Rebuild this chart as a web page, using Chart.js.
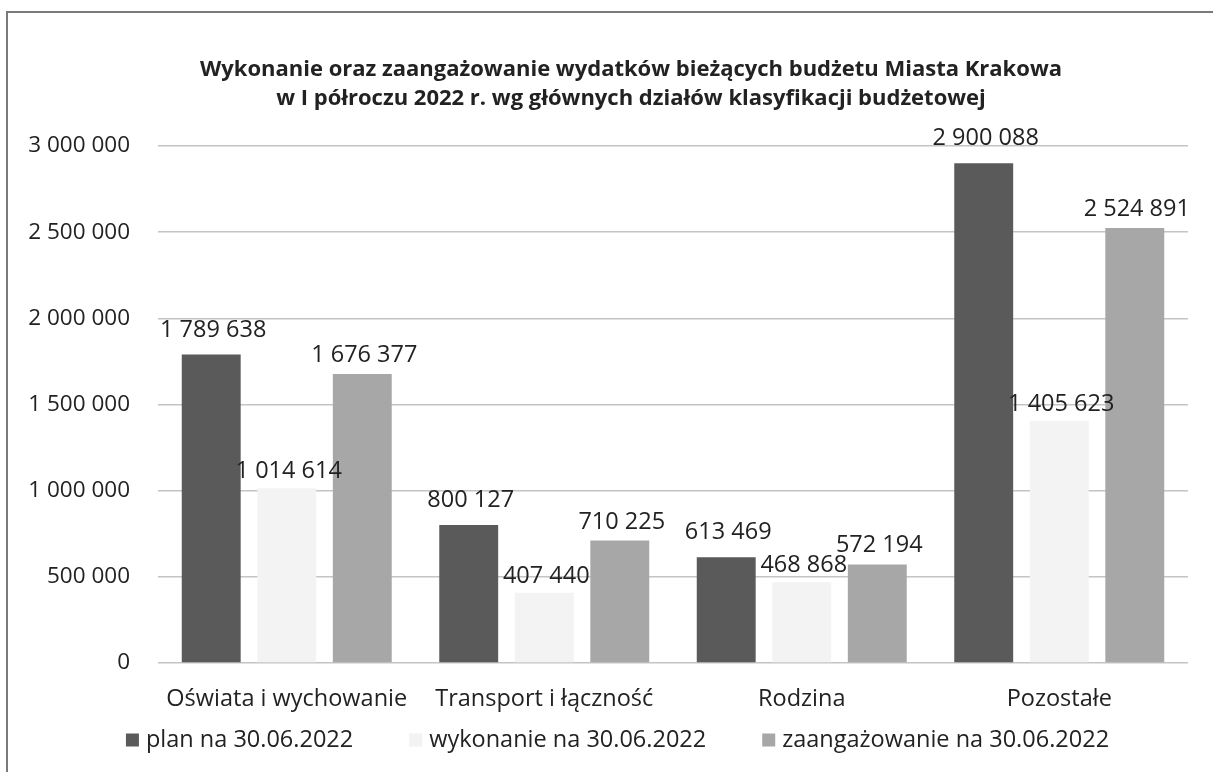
<!DOCTYPE html>
<html><head><meta charset="utf-8">
<script src="https://cdn.jsdelivr.net/npm/chart.js@4.4.1/dist/chart.umd.min.js"></script>
<style>
html,body{margin:0;padding:0;background:#fff;overflow:hidden;width:1213px;height:772px}
#wrap{position:absolute;left:0;top:0;width:1255px;height:772px}
</style></head><body>
<div id="wrap"><canvas id="c" width="1255" height="772"></canvas></div>
<script>
const categories = ["Oświata i wychowanie", "Transport i łączność", "Rodzina", "Pozostałe"];
const seriesNames = ["plan na 30.06.2022", "wykonanie na 30.06.2022", "zaangażowanie na 30.06.2022"];
const planValues = [1789638, 800127, 613469, 2900088];
const wykonanieValues = [1014614, 407440, 468868, 1405623];
const zaangazowanieValues = [1676377, 710225, 572194, 2524891];
const yTickValues = [0, 500000, 1000000, 1500000, 2000000, 2500000, 3000000];
const titleLines = ["Wykonanie oraz zaangażowanie wydatków bieżących budżetu Miasta Krakowa",
                    "w I półroczu 2022 r. wg głównych działów klasyfikacji budżetowej"];

const FONT = "'Open Sans', 'Noto Sans', sans-serif";
const TEXT = "#222222";
const colors = ["#5a5a5a", "#f3f3f3", "#a7a7a7"];
const labelGaps = [18, 10, 12];
const fmt = v => String(v).replace(/\B(?=(\d{3})+(?!\d))/g, "\u00a0");

const framePlugin = {
  id: "frame",
  beforeDraw(chart) {
    const ctx = chart.ctx;
    ctx.save();
    ctx.fillStyle = "#fff";
    ctx.fillRect(0, 0, chart.width, chart.height);
    ctx.strokeStyle = "#7a7a7a";
    ctx.lineWidth = 2;
    ctx.beginPath();
    ctx.moveTo(7, chart.height);
    ctx.lineTo(7, 12);
    ctx.lineTo(chart.width, 12);
    ctx.stroke();
    ctx.fillStyle = TEXT;
    ctx.font = "bold 22px " + FONT;
    ctx.textAlign = "center";
    ctx.textBaseline = "middle";
    ctx.fillText(titleLines[0], 631, 70);
    ctx.fillText(titleLines[1], 631, 99);
    ctx.restore();
  }
};

const labelPlugin = {
  id: "valueLabels",
  afterDatasetsDraw(chart) {
    const ctx = chart.ctx;
    ctx.save();
    ctx.fillStyle = TEXT;
    ctx.font = "23.5px " + FONT;
    ctx.textAlign = "center";
    ctx.textBaseline = "alphabetic";
    chart.data.datasets.forEach((ds, i) => {
      const meta = chart.getDatasetMeta(i);
      meta.data.forEach((el, j) => {
        ctx.fillText(fmt(ds.data[j]), el.x + 2, el.y - labelGaps[i]);
      });
    });
    ctx.restore();
  }
};

const legendPlugin = {
  id: "customLegend",
  afterDraw(chart) {
    const ctx = chart.ctx;
    ctx.save();
    ctx.font = "23.5px " + FONT;
    ctx.textBaseline = "middle";
    ctx.textAlign = "left";
    const box = 13, gapText = 7, gapItem = 56;
    const widths = chart.data.datasets.map(ds => box + gapText + ctx.measureText(ds.label).width);
    const total = widths.reduce((a, b) => a + b, 0) + gapItem * (widths.length - 1);
    let x = 617.5 - total / 2;
    const y = 740;
    chart.data.datasets.forEach((ds, i) => {
      ctx.fillStyle = ds.backgroundColor;
      ctx.fillRect(x, y - box / 2, box, box);
      ctx.fillStyle = TEXT;
      ctx.fillText(ds.label, x + box + gapText, y);
      x += widths[i] + gapItem;
    });
    ctx.restore();
  }
};

new Chart(document.getElementById("c"), {
  type: "bar",
  data: {
    labels: categories,
    datasets: [
      { label: seriesNames[0], data: planValues, backgroundColor: colors[0] },
      { label: seriesNames[1], data: wykonanieValues, backgroundColor: colors[1] },
      { label: seriesNames[2], data: zaangazowanieValues, backgroundColor: colors[2] }
    ]
  },
  options: {
    responsive: false,
    animation: false,
    devicePixelRatio: 1,
    categoryPercentage: 0.88,
    barPercentage: 0.78,
    layout: { padding: { left: 7, right: 67, top: 146, bottom: 49 } },
    plugins: { legend: { display: false }, title: { display: false }, tooltip: { enabled: false } },
    scales: {
      x: {
        grid: { display: false },
        border: { display: false },
        ticks: { color: TEXT, font: { family: FONT, size: 23.5 }, padding: 14, maxRotation: 0, autoSkip: false },
        afterFit: s => { s.height = 60; }
      },
      y: {
        min: 0, max: 3000000,
        afterBuildTicks: s => { s.ticks = yTickValues.map(v => ({ value: v })); },
        grid: { color: "#c4c4c4", lineWidth: 1.5, drawTicks: false },
        border: { display: false },
        ticks: { color: TEXT, font: { family: FONT, size: 22.5 }, padding: 28, callback: v => fmt(v) },
        afterFit: s => { s.width = 151; }
      }
    }
  },
  plugins: [framePlugin, labelPlugin, legendPlugin]
});
</script>
</body></html>
